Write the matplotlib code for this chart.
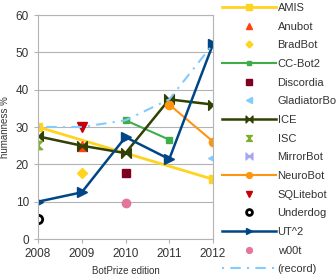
import numpy as np
import matplotlib.pyplot as plt
from matplotlib.path import Path

# BotPrize humanness results
amis_x = [2008, 2012]
amis_y = [30.0, 16.0]
anubot_x = [2009]
anubot_y = [25.0]
bradbot_x = [2009]
bradbot_y = [17.6]
ccbot2_x = [2010, 2011]
ccbot2_y = [31.8, 26.6]
discordia_x = [2010]
discordia_y = [17.7]
gladiator_x = [2012]
gladiator_y = [21.7]
ice_x = [2008, 2009, 2010, 2011, 2012]
ice_y = [27.5, 25.0, 23.0, 37.4, 36.0]
isc_x = [2008]
isc_y = [25.2]
mirror_x = [2012]
mirror_y = [52.2]
neuro_x = [2011, 2012]
neuro_y = [36.0, 26.1]
sqlite_x = [2009]
sqlite_y = [30.0]
underdog_x = [2008]
underdog_y = [5.4]
ut2_x = [2008, 2009, 2010, 2011, 2012]
ut2_y = [10.0, 12.5, 27.3, 21.4, 52.2]
woot_x = [2010]
woot_y = [9.7]
record_x = [2008, 2009, 2010, 2011, 2012]
record_y = [30.0, 30.0, 31.8, 37.4, 52.2]

years = [2008, 2009, 2010, 2011, 2012]

bowtie = Path([(-1, -1), (1, 1), (1, -1), (-1, 1), (-1, -1)],
              [Path.MOVETO, Path.LINETO, Path.LINETO, Path.LINETO, Path.CLOSEPOLY])
hourglass = Path([(-1, 1), (1, 1), (-1, -1), (1, -1), (-1, 1)],
                 [Path.MOVETO, Path.LINETO, Path.LINETO, Path.LINETO, Path.CLOSEPOLY])

plt.rcParams['font.family'] = 'Liberation Sans'
plt.rcParams['font.size'] = 8.5

fig = plt.figure(figsize=(3.36, 2.8), dpi=100)
ax = fig.add_axes([38 / 336, 1 - 239 / 280, 175 / 336, 224 / 280])

ax.plot(amis_x, amis_y, color='#ffd320', lw=2, marker='s', ms=6, label='AMIS')
ax.plot(anubot_x, anubot_y, ls='none', color='#ff420e', marker='^', ms=7, label='Anubot')
ax.plot(bradbot_x, bradbot_y, ls='none', color='#ffd320', marker='D', ms=5, label='BradBot')
ax.plot(ccbot2_x, ccbot2_y, color='#3fae49', lw=1.5, marker='s', ms=5, label='CC-Bot2')
ax.plot(discordia_x, discordia_y, ls='none', color='#7e0021', marker='s', ms=6, label='Discordia')
ax.plot(gladiator_x, gladiator_y, ls='none', color='#83caff', marker='<', ms=7, label='GladiatorBot')
ax.plot(ice_x, ice_y, color='#314004', lw=1.8, marker=bowtie, ms=7, label='ICE')
ax.plot(isc_x, isc_y, ls='none', color='#7fae2c', marker=hourglass, ms=6, label='ISC')
ax.plot(mirror_x, mirror_y, ls='none', color='#a6a6f2', marker=bowtie, ms=7, label='MirrorBot')
ax.plot(neuro_x, neuro_y, color='#ff950e', lw=1.5, marker='o', ms=6, label='NeuroBot')
ax.plot(sqlite_x, sqlite_y, ls='none', color='#c5000b', marker='v', ms=7, label='SQLitebot')
ax.plot(underdog_x, underdog_y, ls='none', color='black', marker='o', ms=6,
        mfc='white', mec='black', mew=2, label='Underdog')
ax.plot(ut2_x, ut2_y, color='#004586', lw=1.8, marker='>', ms=7, label='UT^2')
ax.plot(woot_x, woot_y, ls='none', color='#e3779a', marker='o', ms=6, label='w00t')
ax.plot(record_x, record_y, color='#83caff', lw=1.5, ls=(0, (1, 3, 5, 3)), label='(record)')

ax.set_xlim(2008, 2012)
ax.set_ylim(0, 60)
ax.set_xticks(years)
ax.set_yticks(range(0, 61, 10))
ax.yaxis.grid(True, color='#b3b3b3', lw=0.8)
ax.set_axisbelow(True)
for s in ax.spines.values():
    s.set_color('#b3b3b3')
ax.tick_params(colors='#b3b3b3', labelcolor='#333333', length=3)
ax.set_ylabel('humanness %', color='#333333', fontsize=7)
ax.set_xlabel('BotPrize edition', color='#333333', fontsize=7)

fig.legend(loc='upper left', bbox_to_anchor=(222 / 336, 1 - 3 / 280), frameon=False,
           handlelength=4.9, numpoints=1, labelspacing=0.78, handletextpad=0.1,
           borderaxespad=0, borderpad=0, fontsize=8, labelcolor='#333333',
           markerscale=0.7)

fig.savefig('out.png', dpi=100)
